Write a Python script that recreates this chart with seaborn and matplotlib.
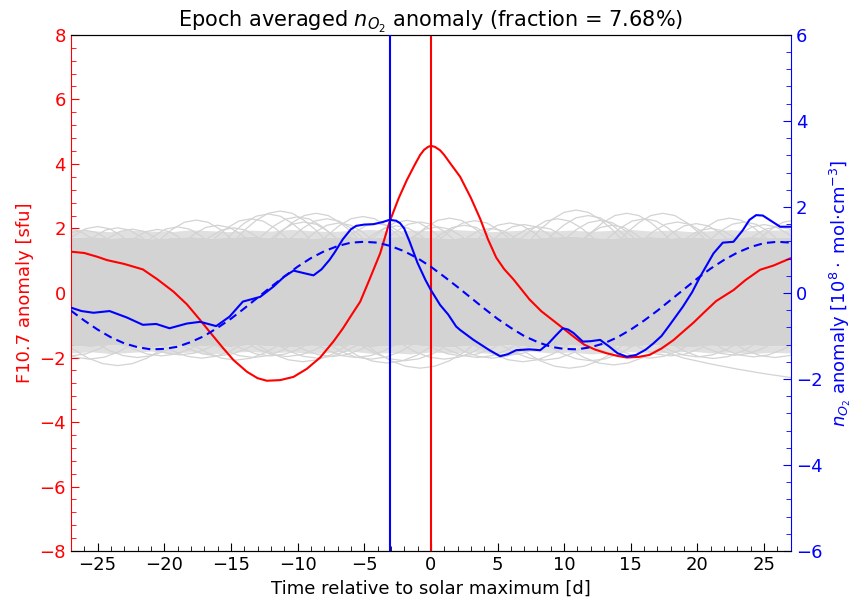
import numpy as np
import pandas as pd
import matplotlib
matplotlib.use("Agg")
import matplotlib.pyplot as plt
from matplotlib.ticker import AutoMinorLocator, MultipleLocator
import seaborn as sns

# ---- F10.7 epoch-averaged anomaly [sfu] (left axis) ----
f107_t = [-27, -26, -25, -24.3, -23, -21.6, -20.5, -19.3, -18.3, -17.3, -16.6, -15.6,
          -14.8, -13.8, -13, -12.3, -11.3, -10.3, -9.3, -8.3, -7.3, -6.6, -5.9, -5.3,
          -4.6, -3.8, -3.1, -2.4, -1.8, -1.2, -0.8, -0.5, -0.2, 0, 0.3, 0.7, 1.0, 1.4,
          2.2, 3.0, 3.7, 4.3, 4.9, 5.5, 6.2, 7.4, 8.3, 9.2, 10.0, 10.7, 11.5, 12.3, 13.2,
          14.0, 14.7, 15.6, 16.4, 17.3, 18.2, 19.0, 19.7, 20.5, 21.4, 22.7, 23.6, 24.7,
          25.7, 27]
f107_val = [1.28, 1.24, 1.12, 1.02, 0.90, 0.73, 0.42, 0.04, -0.35, -0.84, -1.2, -1.7,
            -2.08, -2.44, -2.64, -2.72, -2.70, -2.60, -2.35, -2.0, -1.5, -1.1, -0.65, -0.27,
            0.42, 1.23, 2.2, 2.95, 3.5, 3.98, 4.28, 4.44, 4.53, 4.56, 4.53, 4.42, 4.28, 4.05,
            3.6, 2.95, 2.3, 1.65, 1.1, 0.74, 0.42, -0.2, -0.57, -0.86, -1.12, -1.35, -1.6,
            -1.75, -1.87, -1.95, -2.0, -1.98, -1.92, -1.72, -1.46, -1.17, -0.92, -0.6, -0.25,
            0.09, 0.4, 0.72, 0.85, 1.08]

# ---- n_O2 epoch-averaged anomaly [1e8 mol cm^-3] (right axis) ----
no2_t = [-27, -26.2, -25.3, -24.1, -22.8, -21.6, -20.6, -19.6, -18.3, -17.3, -16.1, -15.1,
         -14.1, -12.8, -11.8, -11, -10.3, -9.5, -8.8, -8.2, -7.6, -7.2, -6.6, -6.0, -5.6,
         -5.0, -4.3, -3.6, -3.1, -2.6, -2.3, -2.0, -1.6, -1.0, -0.4, 0, 0.7, 1.3, 1.9, 2.2,
         3.2, 4.4, 5.2, 5.8, 6.4, 7.4, 8.2, 8.8, 9.4, 9.9, 10.3, 10.7, 11.4, 12.0, 12.7,
         13.4, 14.0, 14.7, 15.4, 16.1, 16.7, 17.3, 17.9, 18.9, 19.6, 20.2, 21.2, 21.9,
         22.7, 23.4, 23.9, 24.4, 24.9, 25.4, 26.2, 27]
no2_val = [-0.34, -0.42, -0.46, -0.42, -0.57, -0.74, -0.72, -0.82, -0.71, -0.67, -0.77, -0.55,
           -0.2, -0.09, 0.15, 0.38, 0.52, 0.46, 0.41, 0.55, 0.77, 0.95, 1.25, 1.48, 1.56,
           1.59, 1.6, 1.65, 1.7, 1.68, 1.62, 1.5, 1.2, 0.7, 0.3, 0.07, -0.28, -0.5, -0.78, -0.86,
           -1.09, -1.33, -1.47, -1.42, -1.33, -1.31, -1.33, -1.18, -0.98, -0.82, -0.85, -0.93,
           -1.13, -1.12, -1.09, -1.25, -1.4, -1.48, -1.44, -1.32, -1.17, -1.0, -0.75, -0.32,
           0.02, 0.38, 0.92, 1.17, 1.19, 1.46, 1.7, 1.81, 1.8, 1.7, 1.54, 1.54]

# ---- sinusoidal fit to the n_O2 anomaly (right axis) ----
fit_t = list(range(-27, 28))
fit_val = [-0.41, -0.64, -0.85, -1.03, -1.17, -1.26, -1.31, -1.30, -1.25, -1.14, -1.00,
           -0.81, -0.60, -0.36, -0.11, 0.14, 0.38, 0.61, 0.81, 0.97, 1.09, 1.17, 1.19,
           1.17, 1.09, 0.97, 0.81, 0.61, 0.38, 0.14, -0.11, -0.36, -0.60, -0.81, -1.00,
           -1.14, -1.25, -1.30, -1.31, -1.26, -1.17, -1.03, -0.85, -0.64, -0.41, -0.16,
           0.09, 0.34, 0.57, 0.77, 0.94, 1.07, 1.16, 1.19, 1.17]

# ---- epoch markers ----
no2_max_day = -3.1
solar_max_day = 0.0

# ---- spread of the randomised epoch curves (left axis units) ----
band_t = [-27, -25.5, -24, -22.5, -21, -19.5, -18, -16.5, -15, -13.5, -12, -10.5, -9,
          -7.5, -6, -4.5, -3, -1.5, 0, 1.5, 3, 4.5, 6, 7.5, 9, 10.5, 12, 13.5, 15, 16.5,
          18, 19.5, 21, 22.5, 24, 25.5, 27]
band_top = [1.72, 1.75, 1.70, 1.74, 1.68, 1.72, 1.75, 1.70, 1.73, 1.76, 1.72, 1.74, 1.70,
            1.73, 1.75, 1.71, 1.74, 1.76, 1.72, 1.70, 1.74, 1.71, 1.73, 1.70, 1.74, 1.76,
            1.72, 1.70, 1.73, 1.75, 1.71, 1.74, 1.70, 1.72, 1.75, 1.73, 1.72]
band_top_sparse = [1.96, 1.93, 1.90, 1.95, 1.92, 1.90, 1.96, 1.93, 1.90, 1.95, 1.92, 1.97,
                   1.93, 1.90, 1.94, 1.97, 1.92, 1.95, 1.93, 1.97, 1.94, 1.90, 1.93, 1.96,
                   1.92, 1.95, 1.91, 1.94, 1.97, 1.92, 1.95, 1.90, 1.93, 1.96, 1.93, 1.95, 1.96]
band_bottom = [-1.62, -1.66, -1.60, -1.64, -1.67, -1.61, -1.65, -1.62, -1.66, -1.60, -1.64,
               -1.67, -1.62, -1.65, -1.61, -1.66, -1.63, -1.60, -1.65, -1.67, -1.62, -1.64,
               -1.60, -1.66, -1.63, -1.61, -1.65, -1.62, -1.66, -1.60, -1.64, -1.67, -1.62,
               -1.65, -1.61, -1.64, -1.63]
band_bottom_sparse = [-1.86, -1.82, -1.88, -1.84, -1.80, -1.87, -1.83, -1.89, -1.84, -1.81,
                      -1.86, -1.82, -1.88, -1.84, -1.80, -1.87, -1.85, -1.89, -1.83, -1.86,
                      -1.82, -1.88, -1.84, -1.80, -1.86, -1.83, -1.89, -1.85, -1.82, -1.87,
                      -1.84, -1.80, -1.86, -1.83, -1.88, -1.84, -1.86]

# upper excursions of individual randomised curves
upper_dx = [-3.6, -2.7, -1.8, -0.9, 0, 0.9, 1.8, 2.7, 3.6]
upper_centres = [-27.3, -25.0, -22.4, -17.6, -14.8, -12.2, -11.3, -10.0, -8.6, -6.9, -5.1,
                 -2.6, -0.8, 1.4, 3.3, 5.9, 8.1, 10.9, 12.7, 14.7, 17.4, 19.9, 22.4, 25.0, 27.3,
                 -26.0, -23.5, -20.5, -19.0, -16.0, -13.5, -9.5, -7.8, -4.0, -1.8, 0.5, 2.5,
                 4.5, 7.0, 9.5, 11.8, 13.6, 16.0, 18.5, 21.0, 23.5, 26.0]
upper_levels = [
    [1.00, 1.40, 1.71, 1.93, 2.00, 1.93, 1.71, 1.40, 1.00],
    [1.06, 1.46, 1.77, 1.99, 2.06, 1.99, 1.77, 1.46, 1.06],
    [0.98, 1.38, 1.69, 1.91, 1.98, 1.91, 1.69, 1.38, 0.98],
    [1.26, 1.66, 1.97, 2.19, 2.26, 2.19, 1.97, 1.66, 1.26],
    [1.02, 1.42, 1.73, 1.95, 2.02, 1.95, 1.73, 1.42, 1.02],
    [1.45, 1.85, 2.16, 2.38, 2.45, 2.38, 2.16, 1.85, 1.45],
    [1.54, 1.94, 2.25, 2.47, 2.54, 2.47, 2.25, 1.94, 1.54],
    [1.36, 1.76, 2.07, 2.29, 2.36, 2.29, 2.07, 1.76, 1.36],
    [1.47, 1.87, 2.18, 2.40, 2.47, 2.40, 2.18, 1.87, 1.47],
    [1.17, 1.57, 1.88, 2.10, 2.17, 2.10, 1.88, 1.57, 1.17],
    [1.37, 1.77, 2.08, 2.30, 2.37, 2.30, 2.08, 1.77, 1.37],
    [1.08, 1.48, 1.79, 2.01, 2.08, 2.01, 1.79, 1.48, 1.08],
    [1.20, 1.60, 1.91, 2.13, 2.20, 2.13, 1.91, 1.60, 1.20],
    [1.32, 1.72, 2.03, 2.25, 2.32, 2.25, 2.03, 1.72, 1.32],
    [1.24, 1.64, 1.95, 2.17, 2.24, 2.17, 1.95, 1.64, 1.24],
    [1.17, 1.57, 1.88, 2.10, 2.17, 2.10, 1.88, 1.57, 1.17],
    [1.05, 1.45, 1.76, 1.98, 2.05, 1.98, 1.76, 1.45, 1.05],
    [1.57, 1.97, 2.28, 2.50, 2.57, 2.50, 2.28, 1.97, 1.57],
    [1.25, 1.65, 1.96, 2.18, 2.25, 2.18, 1.96, 1.65, 1.25],
    [1.47, 1.87, 2.18, 2.40, 2.47, 2.40, 2.18, 1.87, 1.47],
    [1.47, 1.87, 2.18, 2.40, 2.47, 2.40, 2.18, 1.87, 1.47],
    [1.15, 1.55, 1.86, 2.08, 2.15, 2.08, 1.86, 1.55, 1.15],
    [1.32, 1.72, 2.03, 2.25, 2.32, 2.25, 2.03, 1.72, 1.32],
    [1.12, 1.52, 1.83, 2.05, 2.12, 2.05, 1.83, 1.52, 1.12],
    [1.26, 1.66, 1.97, 2.19, 2.26, 2.19, 1.97, 1.66, 1.26],
    [0.95, 1.35, 1.66, 1.88, 1.95, 1.88, 1.66, 1.35, 0.95],
    [1.02, 1.42, 1.73, 1.95, 2.02, 1.95, 1.73, 1.42, 1.02],
    [0.97, 1.37, 1.68, 1.90, 1.97, 1.90, 1.68, 1.37, 0.97],
    [1.05, 1.45, 1.76, 1.98, 2.05, 1.98, 1.76, 1.45, 1.05],
    [1.10, 1.50, 1.81, 2.03, 2.10, 2.03, 1.81, 1.50, 1.10],
    [1.30, 1.70, 2.01, 2.23, 2.30, 2.23, 2.01, 1.70, 1.30],
    [1.20, 1.60, 1.91, 2.13, 2.20, 2.13, 1.91, 1.60, 1.20],
    [1.30, 1.70, 2.01, 2.23, 2.30, 2.23, 2.01, 1.70, 1.30],
    [1.15, 1.55, 1.86, 2.08, 2.15, 2.08, 1.86, 1.55, 1.15],
    [1.25, 1.65, 1.96, 2.18, 2.25, 2.18, 1.96, 1.65, 1.25],
    [1.05, 1.45, 1.76, 1.98, 2.05, 1.98, 1.76, 1.45, 1.05],
    [1.10, 1.50, 1.81, 2.03, 2.10, 2.03, 1.81, 1.50, 1.10],
    [1.00, 1.40, 1.71, 1.93, 2.00, 1.93, 1.71, 1.40, 1.00],
    [1.12, 1.52, 1.83, 2.05, 2.12, 2.05, 1.83, 1.52, 1.12],
    [1.30, 1.70, 2.01, 2.23, 2.30, 2.23, 2.01, 1.70, 1.30],
    [1.40, 1.80, 2.11, 2.33, 2.40, 2.33, 2.11, 1.80, 1.40],
    [1.10, 1.50, 1.81, 2.03, 2.10, 2.03, 1.81, 1.50, 1.10],
    [1.30, 1.70, 2.01, 2.23, 2.30, 2.23, 2.01, 1.70, 1.30],
    [1.20, 1.60, 1.91, 2.13, 2.20, 2.13, 1.91, 1.60, 1.20],
    [1.00, 1.40, 1.71, 1.93, 2.00, 1.93, 1.71, 1.40, 1.00],
    [1.20, 1.60, 1.91, 2.13, 2.20, 2.13, 1.91, 1.60, 1.20],
    [1.05, 1.45, 1.76, 1.98, 2.05, 1.98, 1.76, 1.45, 1.05],
]

# lower excursions of individual randomised curves
lower_dx = [-4.5, -3.4, -2.2, -1.1, 0, 1.1, 2.2, 3.4, 4.5]
lower_centres = [-25.6, -23.5, -20.2, -17.2, -14.6, -12.0, -9.6, -7.4, -5.6, -3.3, -0.8,
                 2.4, 4.6, 6.9, 10.4, 13.7, 16.4, 21.2, 24.2,
                 -27.0, -22.0, -18.8, -16.0, -13.3, -10.8, -8.5, -4.5, -2.0, 1.0, 3.5,
                 5.8, 8.5, 12.0, 15.0, 18.0, 20.0, 22.8, 25.8]
lower_levels = [
    [-1.15, -1.53, -1.82, -1.99, -2.05, -1.99, -1.82, -1.53, -1.15],
    [-1.35, -1.73, -2.02, -2.19, -2.25, -2.19, -2.02, -1.73, -1.35],
    [-1.05, -1.43, -1.72, -1.89, -1.95, -1.89, -1.72, -1.43, -1.05],
    [-1.12, -1.50, -1.79, -1.96, -2.02, -1.96, -1.79, -1.50, -1.12],
    [-1.18, -1.56, -1.85, -2.02, -2.08, -2.02, -1.85, -1.56, -1.18],
    [-1.05, -1.43, -1.72, -1.89, -1.95, -1.89, -1.72, -1.43, -1.05],
    [-1.23, -1.61, -1.90, -2.07, -2.13, -2.07, -1.90, -1.61, -1.23],
    [-1.07, -1.45, -1.74, -1.91, -1.97, -1.91, -1.74, -1.45, -1.07],
    [-1.10, -1.48, -1.77, -1.94, -2.00, -1.94, -1.77, -1.48, -1.10],
    [-1.27, -1.65, -1.94, -2.11, -2.17, -2.11, -1.94, -1.65, -1.27],
    [-1.43, -1.81, -2.10, -2.27, -2.33, -2.27, -2.10, -1.81, -1.43],
    [-1.05, -1.43, -1.72, -1.89, -1.95, -1.89, -1.72, -1.43, -1.05],
    [-1.12, -1.50, -1.79, -1.96, -2.02, -1.96, -1.79, -1.50, -1.12],
    [-1.23, -1.61, -1.90, -2.07, -2.13, -2.07, -1.90, -1.61, -1.23],
    [-1.43, -1.81, -2.10, -2.27, -2.33, -2.27, -2.10, -1.81, -1.43],
    [-1.33, -1.71, -2.00, -2.17, -2.23, -2.17, -2.00, -1.71, -1.33],
    [-1.12, -1.50, -1.79, -1.96, -2.02, -1.96, -1.79, -1.50, -1.12],
    [-1.13, -1.51, -1.80, -1.97, -2.03, -1.97, -1.80, -1.51, -1.13],
    [-1.08, -1.46, -1.75, -1.92, -1.98, -1.92, -1.75, -1.46, -1.08],
    [-1.05, -1.43, -1.72, -1.89, -1.95, -1.89, -1.72, -1.43, -1.05],
    [-1.10, -1.48, -1.77, -1.94, -2.00, -1.94, -1.77, -1.48, -1.10],
    [-1.02, -1.40, -1.69, -1.86, -1.92, -1.86, -1.69, -1.40, -1.02],
    [-1.05, -1.43, -1.72, -1.89, -1.95, -1.89, -1.72, -1.43, -1.05],
    [-1.10, -1.48, -1.77, -1.94, -2.00, -1.94, -1.77, -1.48, -1.10],
    [-1.07, -1.45, -1.74, -1.91, -1.97, -1.91, -1.74, -1.45, -1.07],
    [-1.12, -1.50, -1.79, -1.96, -2.02, -1.96, -1.79, -1.50, -1.12],
    [-1.15, -1.53, -1.82, -1.99, -2.05, -1.99, -1.82, -1.53, -1.15],
    [-1.20, -1.58, -1.87, -2.04, -2.10, -2.04, -1.87, -1.58, -1.20],
    [-1.15, -1.53, -1.82, -1.99, -2.05, -1.99, -1.82, -1.53, -1.15],
    [-1.10, -1.48, -1.77, -1.94, -2.00, -1.94, -1.77, -1.48, -1.10],
    [-1.03, -1.41, -1.70, -1.87, -1.93, -1.87, -1.70, -1.41, -1.03],
    [-1.18, -1.56, -1.85, -2.02, -2.08, -2.02, -1.85, -1.56, -1.18],
    [-1.20, -1.58, -1.87, -2.04, -2.10, -2.04, -1.87, -1.58, -1.20],
    [-1.10, -1.48, -1.77, -1.94, -2.00, -1.94, -1.77, -1.48, -1.10],
    [-1.05, -1.43, -1.72, -1.89, -1.95, -1.89, -1.72, -1.43, -1.05],
    [-1.08, -1.46, -1.75, -1.92, -1.98, -1.92, -1.75, -1.46, -1.08],
    [-1.03, -1.41, -1.70, -1.87, -1.93, -1.87, -1.70, -1.41, -1.03],
    [-1.10, -1.48, -1.77, -1.94, -2.00, -1.94, -1.77, -1.48, -1.10],
]
# one randomised curve still falling at the end of the window
tail_t = [17, 19, 21, 23, 25, 27]
tail_val = [-1.75, -2.02, -2.20, -2.36, -2.50, -2.62]

sns.set_style("white")
plt.rcParams["font.family"] = ["DejaVu Sans"]
plt.rcParams["mathtext.fontset"] = "dejavusans"
plt.rcParams["text.color"] = "black"
plt.rcParams["axes.labelcolor"] = "black"
plt.rcParams["axes.edgecolor"] = "black"

GREY = "#d3d3d3"
RED = "#ff0000"
BLUE = "#0000ff"

fig = plt.figure(figsize=(8.54, 6.01), dpi=100)
ax = fig.add_axes([0.083, 0.083, 0.843, 0.859])
ax2 = ax.twinx()

# randomised epoch curves: dense core, sparser fringe, and individual excursions
ax.fill_between(band_t, band_bottom, band_top, color=GREY, lw=0, zorder=1)
ax.fill_between(band_t, band_top, band_top_sparse, color=GREY, alpha=0.7, lw=0, zorder=1)
ax.fill_between(band_t, band_bottom_sparse, band_bottom, color=GREY, alpha=0.7, lw=0,
                zorder=1)
for c, lv in zip(upper_centres, upper_levels):
    ax.plot([c + d for d in upper_dx], lv, color=GREY, lw=0.9, zorder=1)
for c, lv in zip(lower_centres, lower_levels):
    ax.plot([c + d for d in lower_dx], lv, color=GREY, lw=0.9, zorder=1)
ax.plot(tail_t, tail_val, color=GREY, lw=0.9, zorder=1)

# F10.7 anomaly
f107_df = pd.DataFrame({"t": f107_t, "v": f107_val})
sns.lineplot(data=f107_df, x="t", y="v", ax=ax, color=RED, lw=1.5, sort=False,
             estimator=None, zorder=3)
ax.axvline(solar_max_day, color=RED, lw=1.5, zorder=3)

# n_O2 anomaly and its sinusoidal fit
no2_df = pd.DataFrame({"t": no2_t, "v": no2_val})
fit_df = pd.DataFrame({"t": fit_t, "v": fit_val})
sns.lineplot(data=no2_df, x="t", y="v", ax=ax2, color=BLUE, lw=1.5, sort=False,
             estimator=None, zorder=3)
sns.lineplot(data=fit_df, x="t", y="v", ax=ax2, color=BLUE, lw=1.5, sort=False,
             estimator=None, zorder=3, linestyle=(0, (4, 2.5)))
ax2.axvline(no2_max_day, color=BLUE, lw=1.5, zorder=3)

# axes ranges and ticks
ax.set_xlim(-27, 27)
ax.set_ylim(-8, 8)
ax2.set_ylim(-6, 6)
ax.xaxis.set_major_locator(MultipleLocator(5))
ax.xaxis.set_minor_locator(AutoMinorLocator(5))
ax.yaxis.set_major_locator(MultipleLocator(2))
ax.yaxis.set_minor_locator(AutoMinorLocator(5))
ax2.yaxis.set_major_locator(MultipleLocator(2))
ax2.yaxis.set_minor_locator(AutoMinorLocator(5))

ax.tick_params(axis="x", which="both", direction="in", bottom=True, top=False,
               labelsize=13, colors="black")
ax.tick_params(axis="x", which="major", length=6)
ax.tick_params(axis="x", which="minor", length=3.5)
ax.tick_params(axis="y", which="both", direction="in", left=True, right=False,
               labelsize=13, colors=RED)
ax.tick_params(axis="y", which="major", length=6)
ax.tick_params(axis="y", which="minor", length=3.5)
ax2.tick_params(axis="y", which="both", direction="in", right=True, left=False,
                labelsize=13, colors=BLUE)
ax2.tick_params(axis="y", which="major", length=6)
ax2.tick_params(axis="y", which="minor", length=3.5)

for a in (ax, ax2):
    a.spines["top"].set_color("black")
    a.spines["bottom"].set_color("black")
ax.spines["left"].set_color(RED)
ax.spines["right"].set_visible(False)
ax2.spines["left"].set_visible(False)
ax2.spines["right"].set_color(BLUE)

ax.set_xlabel("Time relative to solar maximum [d]", fontsize=13, color="black")
ax.set_ylabel("F10.7 anomaly [sfu]", fontsize=13, color=RED)
ax2.set_ylabel(r"$n_{O_2}$ anomaly [10$^8\cdot$ mol$\cdot$cm$^{-3}$]", fontsize=13,
               color=BLUE)
ax.set_title(r"Epoch averaged $n_{O_2}$ anomaly (fraction = 7.68%)", fontsize=15,
             color="black")

fig.savefig("out.png", dpi=100)
